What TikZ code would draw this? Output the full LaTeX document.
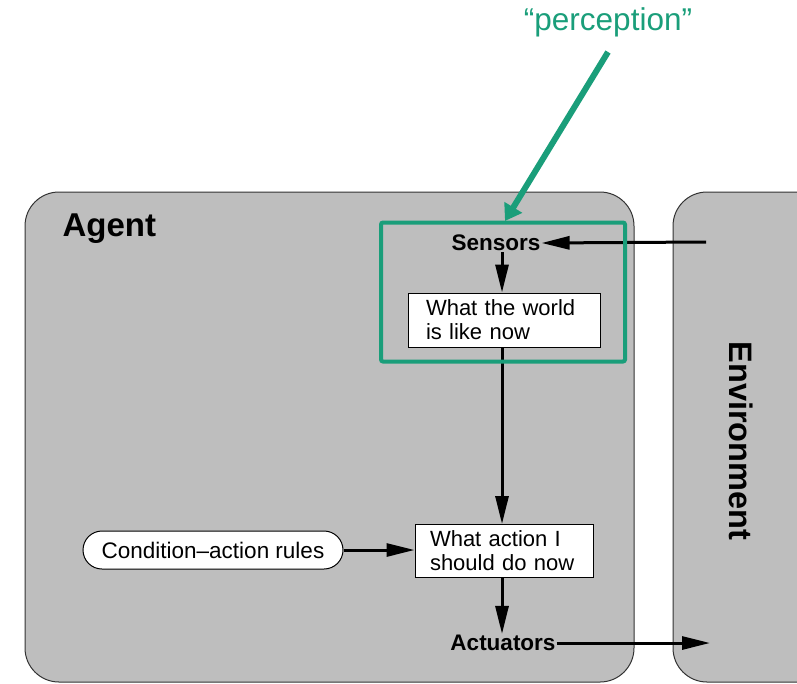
\documentclass[tikz,border=0pt]{standalone}
\usepackage{fontspec}
\setmainfont{Liberation Sans}
\usetikzlibrary{arrows.meta,shapes.misc}
\definecolor{panel}{HTML}{BEBEBE}
\definecolor{teal}{HTML}{1A9E7A}
\tikzset{
  panelbox/.style={draw=black!80, line width=1pt, fill=panel, rounded corners=34pt},
  wirearrow/.style={draw=black, line width=3pt, -{Triangle[length=28pt,width=13pt]}},
  partname/.style={font=\bfseries\fontsize{22.5}{24}\selectfont, inner sep=1pt},
  stepbox/.style={draw, fill=white, line width=1pt, align=left, inner sep=0pt,
    font=\fontsize{22}{24}\selectfont},
  rulebox/.style={draw, fill=white, line width=1pt, rounded rectangle, inner sep=0pt,
    font=\fontsize{22.5}{24}\selectfont},
}
\begin{document}
\begin{tikzpicture}[x=1pt,y=-1pt]
  \useasboundingbox (0,0) rectangle (797,683);
  \begin{scope}
    \clip (0,0) rectangle (797,683);
    % agent and environment panels
    \draw[panelbox] (25,192) rectangle (634,682);
    \draw[panelbox] (673,192) rectangle (840,682);
  \end{scope}
  \node[font=\bfseries\fontsize{33}{35}\selectfont, anchor=west] (agent) at (59,229) {Agent};
  \node[font=\bfseries\fontsize{32.5}{35}\selectfont, rotate=-90] (env) at (741,441) {Environment};

  % agent internals
  \node[partname] (sensors) at (496,243) {Sensors};
  \node[stepbox, minimum width=192pt, minimum height=54pt, text width=156pt] (world) at (504,320) {What the world\\is like now};
  \node[stepbox, minimum width=178pt, minimum height=53pt, text width=148pt] (action) at (504,551) {What action I\\should do now};
  \node[rulebox, minimum width=260pt, minimum height=38pt] (rules) at (213,550) {Condition\textendash action rules};
  \node[partname] (actuators) at (503,643) {Actuators};

  \coordinate (envin) at (706,242);
  \coordinate (envout) at (710,643);

  \path[wirearrow] (envin) -- (sensors.east);
  \path[wirearrow] (sensors.south -| 502,0) -- (world.north -| 502,0);
  \path[wirearrow] (world.south -| 502,0) -- (action.north -| 502,0);
  \path[wirearrow] (rules.east) -- (rules.east -| action.west);
  \path[wirearrow] (action.south -| 502,0) -- (actuators.north -| 502,0);
  \path[wirearrow] (actuators.east) -- (envout);

  % perception highlight
  \node[draw=teal, line width=4pt, rounded corners=2pt, minimum width=244pt, minimum height=139pt] (percbox) at (503,292) {};
  \node[text=teal, font=\fontsize{31.5}{33}\selectfont] (perc) at (608,22) {``perception''};
  \coordinate (perctail) at (608,52);
  \draw[teal, line width=6pt, -{Triangle[length=16pt,width=20pt]}] (perctail) -- (505,221);
\end{tikzpicture}
\end{document}
